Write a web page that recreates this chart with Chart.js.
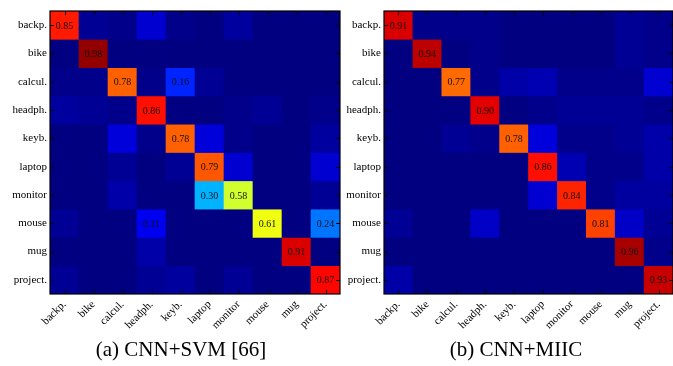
<!DOCTYPE html>
<html>
<head>
<meta charset="utf-8">
<script src="https://cdn.jsdelivr.net/npm/chart.js@4.4.1/dist/chart.umd.min.js"></script>
<style>
  body { margin: 0; background: #fff; }
  #wrap { position: relative; width: 673px; height: 366px; overflow: hidden; }
  canvas { position: absolute; top: 0; }
  #svm { left: 0; }
  #miic { left: 341px; }
  .caption {
    position: absolute; top: 337px;
    font: 21px "Liberation Serif", "Times New Roman", serif; line-height: 24px;
    white-space: nowrap; transform: translateX(-50%); color: #000;
  }
</style>
</head>
<body>
<div id="wrap">
  <canvas id="svm" width="341" height="366"></canvas>
  <canvas id="miic" width="332" height="366"></canvas>
  <div class="caption" style="left:181px">(a) CNN+SVM [66]</div>
  <div class="caption" style="left:516px">(b) CNN+MIIC</div>
</div>
<script>
// object classes, rows = true class, columns = predicted class
const classes = ["backp.", "bike", "calcul.", "headph.", "keyb.", "laptop", "monitor", "mouse", "mug", "project."];

const svmMatrix = [
  [0.85, 0.02, 0.01, 0.08, 0.01, 0.00, 0.03, 0.00, 0.00, 0.00],
  [0.00, 0.98, 0.00, 0.00, 0.00, 0.00, 0.00, 0.00, 0.00, 0.00],
  [0.01, 0.01, 0.78, 0.01, 0.16, 0.02, 0.00, 0.00, 0.00, 0.00],
  [0.03, 0.02, 0.01, 0.86, 0.00, 0.00, 0.01, 0.02, 0.00, 0.01],
  [0.00, 0.00, 0.09, 0.01, 0.78, 0.09, 0.01, 0.00, 0.00, 0.03],
  [0.00, 0.00, 0.02, 0.00, 0.02, 0.79, 0.08, 0.00, 0.00, 0.08],
  [0.00, 0.00, 0.04, 0.00, 0.00, 0.30, 0.58, 0.00, 0.00, 0.02],
  [0.02, 0.00, 0.00, 0.11, 0.00, 0.00, 0.00, 0.61, 0.00, 0.24],
  [0.00, 0.00, 0.00, 0.04, 0.00, 0.00, 0.00, 0.00, 0.91, 0.00],
  [0.02, 0.00, 0.00, 0.02, 0.03, 0.00, 0.02, 0.00, 0.00, 0.87],
];

const miicMatrix = [
  [0.91, 0.01, 0.01, 0.01, 0.00, 0.00, 0.00, 0.00, 0.02, 0.01],
  [0.00, 0.94, 0.00, 0.01, 0.00, 0.00, 0.00, 0.00, 0.02, 0.01],
  [0.00, 0.00, 0.77, 0.01, 0.04, 0.05, 0.01, 0.01, 0.01, 0.08],
  [0.00, 0.00, 0.00, 0.90, 0.00, 0.01, 0.02, 0.02, 0.02, 0.01],
  [0.00, 0.00, 0.02, 0.01, 0.78, 0.09, 0.01, 0.01, 0.02, 0.04],
  [0.00, 0.00, 0.00, 0.00, 0.00, 0.86, 0.05, 0.01, 0.01, 0.04],
  [0.00, 0.00, 0.00, 0.00, 0.00, 0.08, 0.84, 0.01, 0.03, 0.03],
  [0.02, 0.00, 0.00, 0.07, 0.00, 0.00, 0.00, 0.81, 0.07, 0.02],
  [0.00, 0.00, 0.00, 0.00, 0.00, 0.00, 0.00, 0.00, 0.96, 0.01],
  [0.04, 0.00, 0.00, 0.00, 0.00, 0.00, 0.00, 0.00, 0.00, 0.93],
];

const serif = '"Liberation Serif", "Times New Roman", serif';

// matlab style jet colormap on [0, 1]
function jet(v) {
  const c = x => Math.round(255 * Math.max(0, Math.min(1, x)));
  const r = c(Math.min(4 * v - 1.5, -4 * v + 4.5));
  const g = c(Math.min(4 * v - 0.5, -4 * v + 3.5));
  const b = c(Math.min(4 * v + 0.5, -4 * v + 2.5));
  return `rgb(${r},${g},${b})`;
}

// one floating bar dataset per row, each bar spans one row of the y scale
function makeDatasets(matrix) {
  return matrix.map((row, i) => ({
    label: classes[i],
    values: row,
    data: row.map(() => [i, i + 1]),
    backgroundColor: row.map(jet),
    borderWidth: 0,
    grouped: false,
    barPercentage: 1,
    categoryPercentage: 1,
  }));
}

// dark background, value labels, box and inward ticks
const matrixDecor = {
  id: "matrixDecor",
  beforeDatasetsDraw(chart) {
    const { ctx, chartArea: a } = chart;
    ctx.save();
    ctx.fillStyle = jet(0);
    ctx.fillRect(a.left, a.top, a.width, a.height);
    ctx.restore();
  },
  afterDatasetsDraw(chart) {
    const { ctx, chartArea: a, scales: { x, y } } = chart;
    ctx.save();
    ctx.font = "10px " + serif;
    ctx.fillStyle = "#111";
    ctx.textAlign = "center";
    ctx.textBaseline = "middle";
    chart.data.datasets.forEach((ds, i) => {
      chart.getDatasetMeta(i).data.forEach((bar, j) => {
        const v = ds.values[j];
        if (v >= 0.1) {
          const p = bar.getCenterPoint();
          ctx.fillText(v.toFixed(2), p.x, p.y + 1);
        }
      });
    });

    ctx.strokeStyle = "#000";
    ctx.lineWidth = 1;
    ctx.beginPath();
    x.ticks.forEach((t, k) => {
      const px = Math.round(x.getPixelForTick(k)) + 0.5;
      ctx.moveTo(px, a.bottom); ctx.lineTo(px, a.bottom - 4);
      ctx.moveTo(px, a.top); ctx.lineTo(px, a.top + 4);
    });
    y.ticks.forEach((t, k) => {
      const py = Math.round(y.getPixelForTick(k)) + 0.5;
      ctx.moveTo(a.left, py); ctx.lineTo(a.left + 4, py);
      ctx.moveTo(a.right, py); ctx.lineTo(a.right - 4, py);
    });
    ctx.stroke();
    ctx.lineWidth = 1.2;
    ctx.strokeRect(a.left, a.top, a.width, a.height);
    ctx.restore();
  },
};

function drawMatrix(canvasId, matrix, yWidth, padRight) {
  return new Chart(document.getElementById(canvasId), {
    type: "bar",
    data: { labels: classes, datasets: makeDatasets(matrix) },
    plugins: [matrixDecor],
    options: {
      responsive: false,
      animation: false,
      layout: { padding: { top: 11, bottom: 32, left: 0, right: padRight } },
      plugins: { legend: { display: false }, tooltip: { enabled: false } },
      scales: {
        x: {
          grid: { display: false, drawTicks: false },
          border: { display: false },
          afterFit: s => { s.height = 40; },
          ticks: {
            autoSkip: false, minRotation: 45, maxRotation: 45, padding: 4,
            color: "#000", font: { family: serif, size: 11 },
          },
        },
        y: {
          min: 0, max: 10, reverse: true,
          grid: { display: false, drawTicks: false },
          border: { display: false },
          afterFit: s => { s.width = yWidth; },
          afterBuildTicks: s => { s.ticks = classes.map((c, i) => ({ value: i + 0.5 })); },
          ticks: {
            padding: 3, color: "#000", font: { family: serif, size: 11 },
            callback: (v, i) => classes[i],
          },
        },
      },
    },
  });
}

drawMatrix("svm", svmMatrix, 50, 1);
drawMatrix("miic", miicMatrix, 43, 0);
</script>
</body>
</html>
